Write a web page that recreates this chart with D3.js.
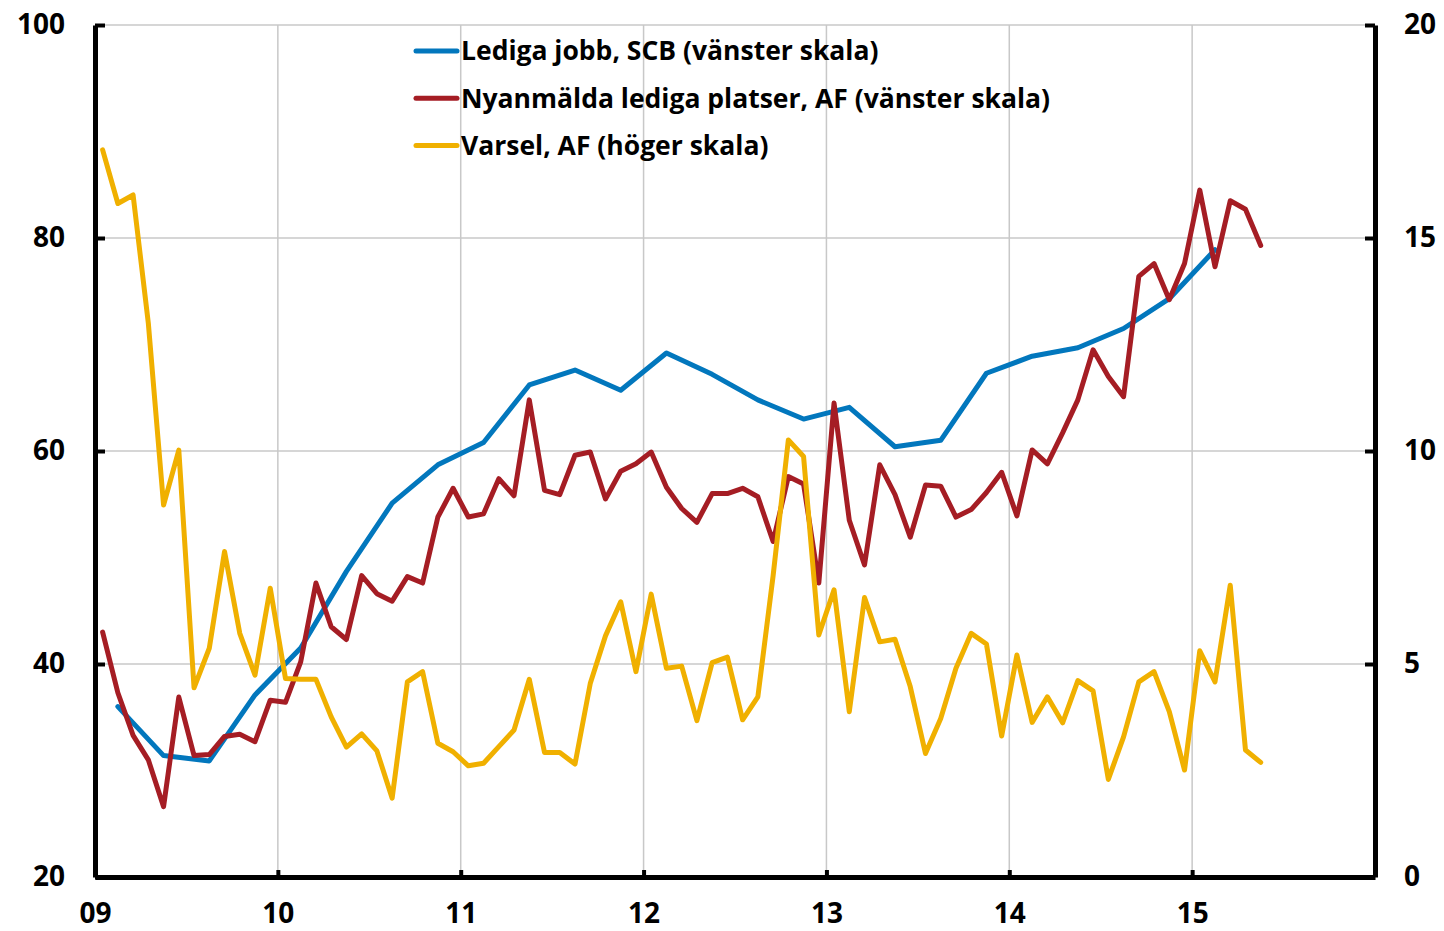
<!DOCTYPE html>
<html>
<head>
<meta charset="utf-8">
<script src="https://cdn.jsdelivr.net/npm/d3@7"></script>
<style>
  body { margin: 0; background: #fff; }
  text { font-family: "Open Sans", "Noto Sans", sans-serif; font-weight: bold; fill: #000; }
</style>
</head>
<body>
<div id="vis"></div>
<script>
var w = 1444, h = 931;

// Lediga jobb, SCB - quarterly, 2009Q1 .. 2015Q1 (left scale)
var scb = [36.0, 31.4, 30.9, 37.1, 41.5, 48.7, 55.1, 58.7, 60.8, 66.2, 67.6, 65.7,
           69.2, 67.2, 64.8, 63.0, 64.1, 60.4, 61.0, 67.3, 68.9, 69.7, 71.5, 74.3, 78.9];

// Nyanmälda lediga platser, AF - monthly, 2009-01 .. 2015-05 (left scale)
var af = [43.0, 37.3, 33.3, 31.0, 26.6, 36.9, 31.4, 31.5, 33.2, 33.4, 32.7, 36.6,
          36.4, 40.2, 47.6, 43.5, 42.3, 48.3, 46.6, 45.9, 48.2, 47.6, 53.8, 56.5,
          53.8, 54.1, 57.4, 55.8, 64.8, 56.3, 55.9, 59.6, 59.9, 55.5, 58.1, 58.8,
          59.9, 56.6, 54.6, 53.3, 56.0, 56.0, 56.5, 55.7, 51.5, 57.6, 56.9, 47.6,
          64.5, 53.5, 49.3, 58.7, 55.9, 51.9, 56.8, 56.7, 53.8, 54.5, 56.1, 58.0,
          53.9, 60.1, 58.8, 61.7, 64.8, 69.5, 67.0, 65.1, 76.4, 77.6, 74.2, 77.6,
          84.5, 77.3, 83.5, 82.7, 79.3];

// Varsel, AF - monthly, 2009-01 .. 2015-05 (right scale)
var varsel = [17.07, 15.81, 16.01, 13.0, 8.73, 10.02, 4.44, 5.37, 7.64, 5.72, 4.74, 6.78,
              4.66, 4.64, 4.64, 3.76, 3.05, 3.36, 2.96, 1.85, 4.58, 4.82, 3.14, 2.94,
              2.61, 2.67, 3.06, 3.45, 4.64, 2.92, 2.92, 2.65, 4.54, 5.66, 6.46, 4.82,
              6.64, 4.90, 4.95, 3.67, 5.03, 5.16, 3.69, 4.23, 7.07, 10.26, 9.87, 5.68,
              6.74, 3.88, 6.56, 5.52, 5.58, 4.47, 2.90, 3.72, 4.90, 5.72, 5.47, 3.31,
              5.21, 3.63, 4.23, 3.62, 4.61, 4.37, 2.29, 3.29, 4.58, 4.82, 3.88, 2.51,
              5.31, 4.58, 6.85, 2.98, 2.69];

var years = [2009, 2010, 2011, 2012, 2013, 2014, 2015];
var leftTicks = [20, 40, 60, 80, 100];
var rightTicks = [0, 5, 10, 15, 20];

var legendItems = [
  {name: "Lediga jobb, SCB (vänster skala)", color: "#0277bd"},
  {name: "Nyanmälda lediga platser, AF (vänster skala)", color: "#a51d24"},
  {name: "Varsel, AF (höger skala)", color: "#f0b000"}
];

var x = d3.scaleLinear().domain([2009, 2016]).range([95, 1375]),
    yL = d3.scaleLinear().domain([20, 100]).range([877, 25]),
    yR = d3.scaleLinear().domain([0, 20]).range([877, 25]);

var svg = d3.select("#vis").append("svg")
    .attr("width", w)
    .attr("height", h);

// grid
svg.append("g")
  .selectAll("line")
    .data(leftTicks.slice(1))
  .enter().append("line")
    .attr("x1", x(2009)).attr("x2", x(2016))
    .attr("y1", function(d) { return yL(d); })
    .attr("y2", function(d) { return yL(d); })
    .attr("stroke", "#c8c8c8").attr("stroke-width", 1.5);

svg.append("g")
  .selectAll("line")
    .data(years.slice(1))
  .enter().append("line")
    .attr("x1", function(d) { return x(d); })
    .attr("x2", function(d) { return x(d); })
    .attr("y1", yL(100)).attr("y2", yL(20))
    .attr("stroke", "#c8c8c8").attr("stroke-width", 1.5);

// series
var monthX = function(d, i) { return x(2009 + (i + 0.5) / 12); },
    quarterX = function(d, i) { return x(2009 + (i * 3 + 1.5) / 12); };

function drawLine(data, xf, yScale, color) {
  svg.append("path")
      .datum(data)
      .attr("fill", "none")
      .attr("stroke", color)
      .attr("stroke-width", 5)
      .attr("stroke-linejoin", "round")
      .attr("stroke-linecap", "round")
      .attr("d", d3.line().x(xf).y(function(d) { return yScale(d); }));
}

drawLine(scb, quarterX, yL, legendItems[0].color);
drawLine(af, monthX, yL, legendItems[1].color);
drawLine(varsel, monthX, yR, legendItems[2].color);

// axes
var axisL = svg.append("g")
    .attr("transform", "translate(" + x(2009) + ",0)")
    .call(d3.axisLeft(yL).tickValues(leftTicks).tickSize(-10).tickSizeOuter(0).tickPadding(30));

var axisR = svg.append("g")
    .attr("transform", "translate(" + x(2016) + ",0)")
    .call(d3.axisRight(yR).tickValues(rightTicks).tickSize(-10).tickSizeOuter(0).tickPadding(29));

var axisB = svg.append("g")
    .attr("transform", "translate(0," + yL(20) + ")")
    .call(d3.axisBottom(x).tickValues(years).tickSize(-7).tickSizeOuter(0).tickPadding(26)
      .tickFormat(function(d) { return String(d).slice(2); }));

[axisL, axisR, axisB].forEach(function(g) {
  g.select(".domain").attr("stroke", "#000").attr("stroke-width", 5);
  g.selectAll(".tick line").attr("stroke", "#000").attr("stroke-width", 4);
  g.selectAll(".tick text").style("font-size", "28px");
});
axisB.selectAll(".tick").filter(function(d) { return d === 2009; }).select("line").remove();

// legend
var leg = svg.append("g")
  .selectAll("g")
    .data(legendItems)
  .enter().append("g")
    .attr("transform", function(d, i) { return "translate(416," + (51 + i * 47.3) + ")"; });

leg.append("line")
    .attr("x1", 0).attr("x2", 41)
    .attr("stroke", function(d) { return d.color; })
    .attr("stroke-width", 5)
    .attr("stroke-linecap", "round");

leg.append("text")
    .attr("x", 45)
    .attr("dy", "0.35em")
    .style("font-size", "26.5px")
    .text(function(d) { return d.name; });
</script>
</body>
</html>
